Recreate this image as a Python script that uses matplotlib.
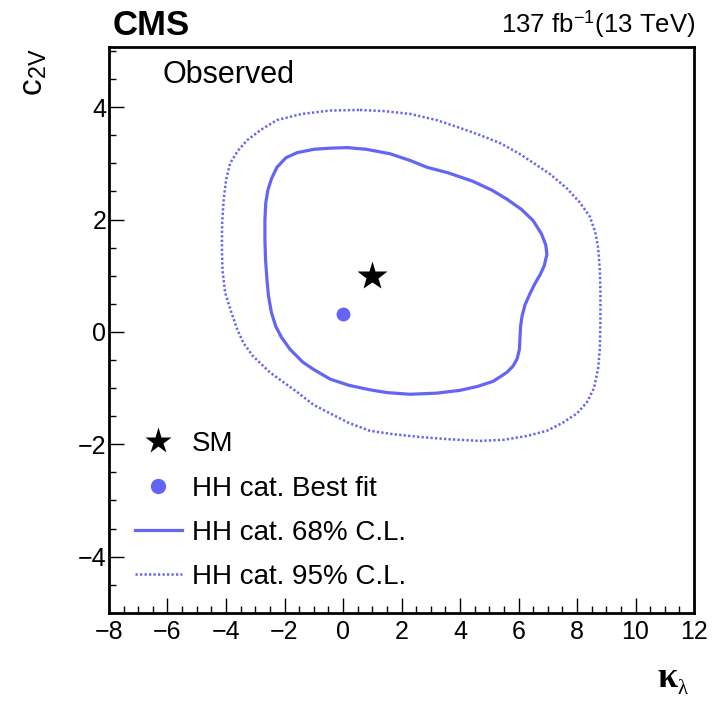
import numpy as np
import matplotlib
matplotlib.use('Agg')
import matplotlib.pyplot as plt
from matplotlib.lines import Line2D
from matplotlib.ticker import MultipleLocator

plt.rcParams['font.family'] = ['Liberation Sans', 'DejaVu Sans']
plt.rcParams['mathtext.fontset'] = 'stix'

# observed likelihood contours in the (kappa_lambda, c_2V) plane
cl68_kl = [0.14, 0.80, 1.61, 2.30, 2.87, 3.60, 4.44, 5.10, 5.61, 6.10,
           6.50, 6.78, 6.93, 6.97, 6.88, 6.74, 6.55, 6.39, 6.22, 6.12,
           6.07, 6.05, 6.03, 5.95, 5.81, 5.60, 5.37, 5.13, 4.60, 4.00,
           3.20, 2.29, 1.50, 0.92, 0.20, -0.44, -1.00, -1.37, -1.81, -2.10,
           -2.30, -2.45, -2.55, -2.60, -2.65, -2.67, -2.67, -2.64, -2.57, -2.45,
           -2.26, -1.95, -1.57, -1.00, -0.44, 0.14]
cl68_c2v = [3.28, 3.25, 3.17, 3.05, 2.93, 2.83, 2.68, 2.52, 2.36, 2.18,
            1.98, 1.75, 1.55, 1.38, 1.18, 1.02, 0.85, 0.68, 0.48, 0.28,
            0.10, -0.10, -0.31, -0.48, -0.61, -0.72, -0.80, -0.88, -0.97, -1.04,
            -1.09, -1.11, -1.08, -1.03, -0.95, -0.84, -0.67, -0.54, -0.31, -0.10,
            0.10, 0.35, 0.65, 0.93, 1.30, 1.65, 1.99, 2.30, 2.52, 2.72,
            2.93, 3.10, 3.19, 3.25, 3.27, 3.28]

cl95_kl = [0.58, 1.40, 2.29, 3.20, 4.00, 4.70, 5.37, 6.00, 6.50, 7.10,
           7.66, 8.10, 8.44, 8.62, 8.72, 8.78, 8.80, 8.80, 8.78, 8.72,
           8.58, 8.34, 8.00, 7.50, 6.97, 6.30, 5.50, 4.68, 3.60, 2.63,
           1.70, 0.92, 0.20, -0.44, -1.00, -1.57, -2.50, -3.08, -3.40, -3.62,
           -3.85, -4.03, -4.12, -4.14, -4.13, -4.08, -4.00, -3.86, -3.60, -3.28,
           -2.80, -2.26, -1.40, -0.44, 0.58]
cl95_c2v = [3.95, 3.93, 3.88, 3.77, 3.63, 3.50, 3.36, 3.18, 3.01, 2.80,
            2.55, 2.30, 2.05, 1.78, 1.50, 1.10, 0.70, 0.20, -0.30, -0.65,
            -1.00, -1.25, -1.45, -1.62, -1.76, -1.85, -1.92, -1.94, -1.91, -1.87,
            -1.82, -1.76, -1.62, -1.45, -1.30, -1.07, -0.72, -0.43, -0.20, 0.05,
            0.40, 0.70, 1.10, 1.50, 1.95, 2.35, 2.70, 3.00, 3.22, 3.41,
            3.60, 3.77, 3.88, 3.94, 3.95]

sm_point = (1.0, 1.0)
best_fit = (0.0, 0.31)

col = '#6464f5'


def main():
    fig = plt.figure(figsize=(7.17, 7.02), dpi=100)
    ax = fig.add_axes([0.152, 0.127, 0.816, 0.806])

    ax.plot(cl95_kl, cl95_c2v, color=col, lw=1.8, ls=(0, (0.9, 0.9)),
            solid_joinstyle='round')
    ax.plot(cl68_kl, cl68_c2v, color=col, lw=2.3, solid_joinstyle='round',
            solid_capstyle='round')
    ax.plot(*best_fit, 'o', color=col, ms=10, mec='none')
    ax.plot(*sm_point, '*', color='black', ms=22, mec='none')

    ax.set_xlim(-8, 12)
    ax.set_ylim(-5, 5.07)
    ax.set_xticks([-8, -6, -4, -2, 0, 2, 4, 6, 8, 10, 12])
    ax.set_yticks([-4, -2, 0, 2, 4])
    ax.xaxis.set_minor_locator(MultipleLocator(0.5))
    ax.yaxis.set_minor_locator(MultipleLocator(0.5))
    ax.tick_params(which='both', direction='in', top=False, right=False,
                   labelsize=18, width=1.0)
    ax.tick_params(which='major', length=11)
    ax.tick_params(which='minor', length=5)
    ax.tick_params(axis='x', pad=5)
    ax.tick_params(axis='y', pad=2)
    for sp in ax.spines.values():
        sp.set_linewidth(2.0)

    handles = [
        Line2D([], [], ls='none', marker='*', color='black', ms=20, mec='none'),
        Line2D([], [], ls='none', marker='o', color=col, ms=11, mec='none'),
        Line2D([], [], color=col, lw=2.3),
        Line2D([], [], color=col, lw=1.8, ls=(0, (0.9, 0.9))),
    ]
    labels = ['SM', 'HH cat. Best fit', 'HH cat. 68% C.L.', 'HH cat. 95% C.L.']
    ax.legend(handles, labels, loc='lower left', bbox_to_anchor=(0.044, 0.04),
              frameon=False, fontsize=20, borderpad=0, borderaxespad=0,
              handlelength=1.7, handletextpad=0.35, labelspacing=0.66)

    ax.text(0.092, 0.936, 'Observed', transform=ax.transAxes, fontsize=22,
            va='baseline', ha='left')

    fig.text(113 / 717, 1 - 35 / 702, 'CMS', fontsize=25, fontweight='bold',
             va='baseline', ha='left')
    fig.text(695 / 717, 1 - 33 / 702, r'137 fb$^{\mathregular{-1}}$(13 TeV)',
             fontsize=18.5, va='baseline', ha='right')
    fig.text(34 / 717, 1 - 72 / 702, r'c$_{\mathregular{2V}}$', fontsize=24,
             rotation=90, ha='center', va='center')
    fig.text(677 / 717, 1 - 687 / 702, 'κ', fontsize=26, fontweight='bold',
             family='Liberation Serif', ha='right', va='baseline')
    fig.text(677 / 717, 1 - 694 / 702, 'λ', fontsize=15,
             family='Liberation Serif', ha='left', va='baseline')

    fig.savefig('out.png', dpi=100)


if __name__ == '__main__':
    main()
